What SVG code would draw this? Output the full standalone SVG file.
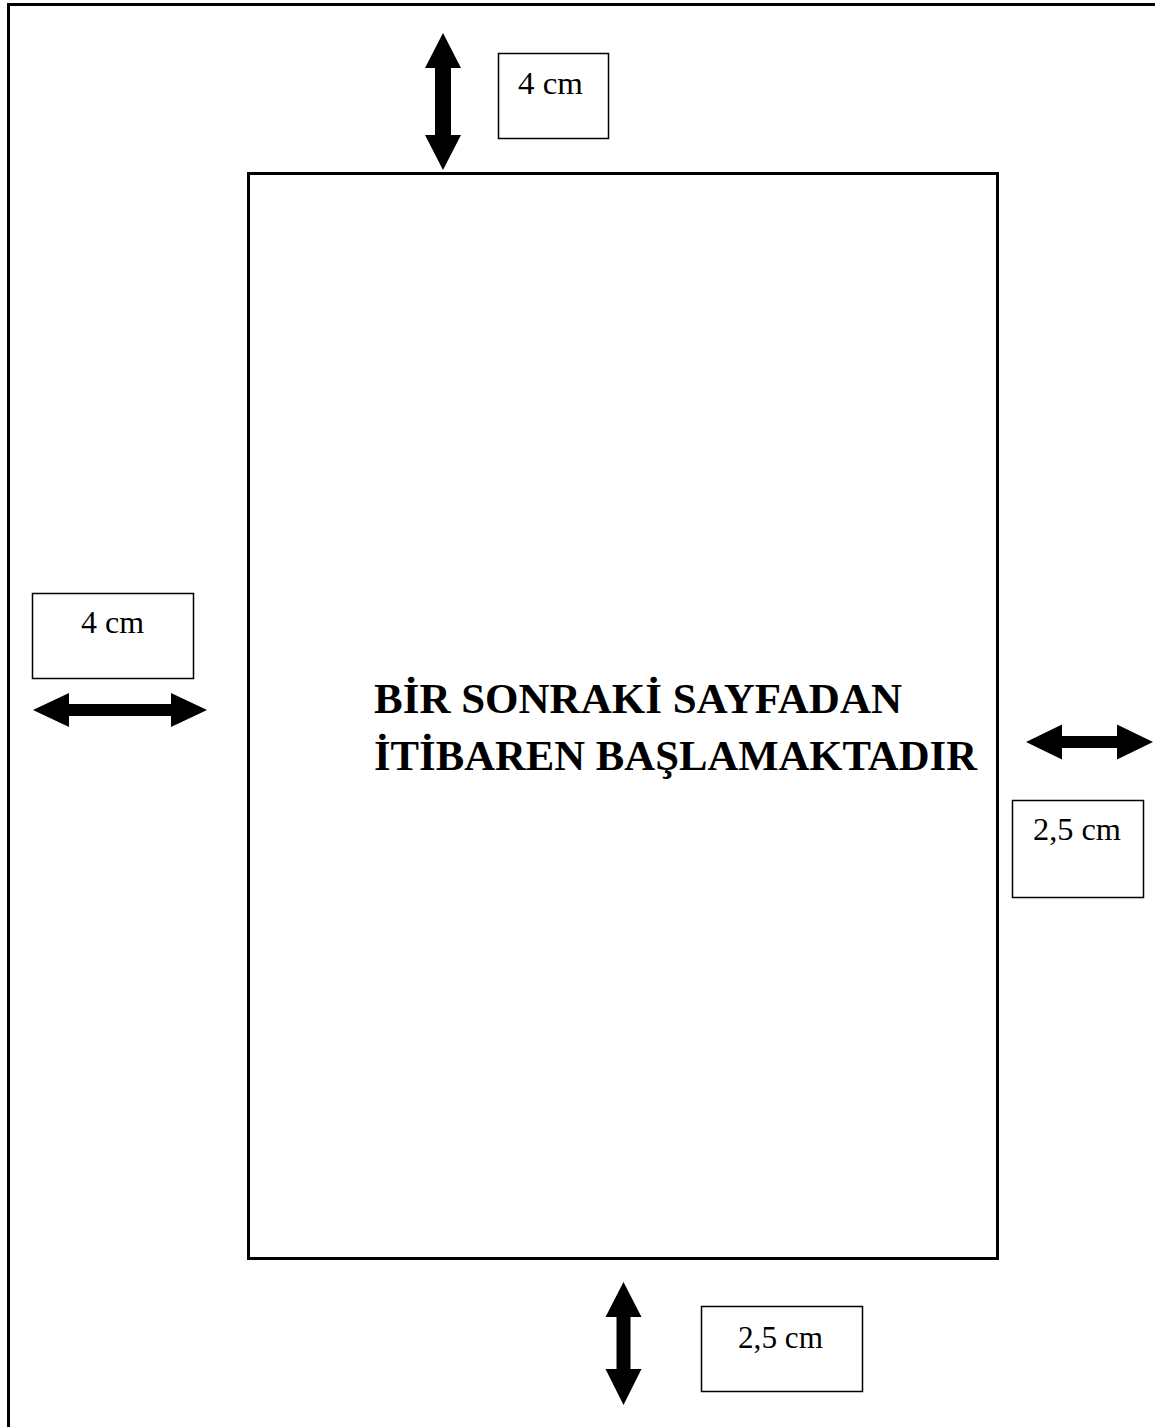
<svg xmlns="http://www.w3.org/2000/svg" width="1155" height="1427" viewBox="0 0 1155 1427">
<style>
.frame{fill:none;stroke:#000;stroke-width:3}
.box{fill:#fff;stroke:#000;stroke-width:1.5}
.lbl{font-family:"Liberation Serif","Times New Roman",serif;font-size:32px;fill:#000}
.title{font-family:"Liberation Serif","Times New Roman",serif;font-size:42px;font-weight:bold;fill:#000}
.arr{fill:#000}
</style>
<rect x="0" y="0" width="1155" height="1427" fill="#fff"/>
<g id="page">
<rect class="frame" x="8.5" y="4.5" width="1200" height="1500"/>
</g>
<g id="text-area">
<rect class="frame" x="248.5" y="173.5" width="749" height="1085"/>
<text class="title" x="374" y="713" textLength="528" lengthAdjust="spacingAndGlyphs">BİR SONRAKİ SAYFADAN</text>
<text class="title" x="374" y="770" textLength="603" lengthAdjust="spacingAndGlyphs">İTİBAREN BAŞLAMAKTADIR</text>
</g>
<g id="label-top">
<rect class="box" x="498.5" y="53.5" width="110" height="85"/>
<text class="lbl" x="518" y="94" textLength="65" lengthAdjust="spacingAndGlyphs">4 cm</text>
</g>
<g id="label-left">
<rect class="box" x="32.5" y="593.5" width="161" height="85"/>
<text class="lbl" x="81" y="633" textLength="63" lengthAdjust="spacingAndGlyphs">4 cm</text>
</g>
<g id="label-right">
<rect class="box" x="1012.5" y="800.5" width="131" height="97"/>
<text class="lbl" x="1033" y="840" textLength="88" lengthAdjust="spacingAndGlyphs">2,5 cm</text>
</g>
<g id="label-bottom">
<rect class="box" x="701.5" y="1306.5" width="161" height="85"/>
<text class="lbl" x="738" y="1348" textLength="85" lengthAdjust="spacingAndGlyphs">2,5 cm</text>
</g>
<g id="connectors">
<polygon class="arr" points="443,33 461,68 451,68 451,135 461,135 443,170 425,135 435,135 435,68 425,68"/>
<polygon class="arr" points="33,710 69,693 69,704 171,704 171,693 207,710 171,727 171,716 69,716 69,727"/>
<polygon class="arr" points="1026,742 1062,724.5 1062,736 1117,736 1117,724.5 1153,742 1117,759.5 1117,748 1062,748 1062,759.5"/>
<polygon class="arr" points="623.5,1282 641.5,1317 630.5,1317 630.5,1369 641.5,1369 623.5,1405 605.5,1369 616.5,1369 616.5,1317 605.5,1317"/>
</g>
</svg>
